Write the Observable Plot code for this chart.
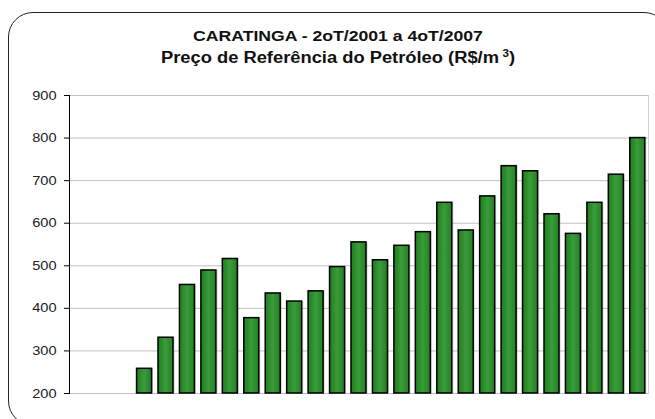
<!DOCTYPE html>
<html>
<head>
<meta charset="utf-8">
<script src="https://cdn.jsdelivr.net/npm/d3@7"></script>
<script src="https://cdn.jsdelivr.net/npm/@observablehq/plot@0.6"></script>
<style>
  html, body { margin: 0; padding: 0; background: #fff; }
  #wrap { position: relative; width: 655px; height: 419px; overflow: hidden; font-family: "Liberation Sans", Arial, sans-serif; }
  #frame { position: absolute; left: 8px; top: 12px; width: 661px; height: 414px; border: 1.5px solid #222; border-radius: 25px; box-sizing: border-box; }
  #title { position: absolute; left: 18px; top: 0; width: 640px; height: 80px; text-align: center; font-weight: bold; color: #111; transform: scaleX(1.16); transform-origin: 320px 0; }
  #title .l1 { position: absolute; left: 0; width: 100%; top: 27px; font-size: 15.2px; }
  #title .l2 { position: absolute; left: 0; width: 100%; top: 47.5px; font-size: 15.8px; }
  #title sup { font-size: 10px; vertical-align: 6px; margin-left: 3px; }
  #chart { position: absolute; left: 0; top: 80px; }
</style>
</head>
<body>
<div id="wrap">
  <div id="frame"></div>
  <div id="title">
    <div class="l1">CARATINGA - 2oT/2001 a 4oT/2007</div>
    <div class="l2">Preço de Referência do Petróleo (R$/m<sup>3</sup>)</div>
  </div>
  <div id="chart"></div>
</div>
<script>
const quarters = [
  "2T/2001","3T/2001","4T/2001",
  "1T/2002","2T/2002","3T/2002","4T/2002",
  "1T/2003","2T/2003","3T/2003","4T/2003",
  "1T/2004","2T/2004","3T/2004","4T/2004",
  "1T/2005","2T/2005","3T/2005","4T/2005",
  "1T/2006","2T/2006","3T/2006","4T/2006",
  "1T/2007","2T/2007","3T/2007","4T/2007"
];
const prices = [
  null, null, null,
  258, 331, 455, 489,
  516, 377, 435, 416,
  440, 497, 555, 513,
  547, 579, 648, 583,
  663, 734, 722, 621,
  575, 648, 714, 800
];
const yTicks = [200, 300, 400, 500, 600, 700, 800, 900];

const data = quarters.map((q, i) => ({q, v: prices[i]})).filter(d => d.v != null);

const chart = Plot.plot({
  width: 655,
  height: 339,
  marginTop: 15,
  marginBottom: 26,
  marginLeft: 69,
  marginRight: 7,
  style: {fontFamily: "'Liberation Sans', Arial, sans-serif", fontSize: "12.6px", color: "#222", background: "transparent"},
  x: {domain: quarters, paddingInner: 0.3, paddingOuter: 0.15, round: false, axis: null},
  y: {domain: [200, 900], ticks: yTicks, label: null},
  marks: [
    Plot.gridY(yTicks, {stroke: "#c0c0c0", strokeOpacity: 1, strokeWidth: 1}),
    Plot.frame({anchor: "right", stroke: "#cfcfcf"}),
    Plot.axisY({ticks: yTicks, tickSize: 5, tickPadding: 8, label: null, stroke: "#000", fill: "#222"}),
    Plot.frame({anchor: "left", stroke: "#000"}),
    Plot.rectY(data, {x: "q", y1: 200, y2: "v", fill: "#000", fillOpacity: 0.18, dx: 1.5, dy: 0, stroke: "none"}),
    Plot.rectY(data, {x: "q", y1: 200, y2: "v", fill: "url(#barGrad)", stroke: "#000", strokeWidth: 1.5})
  ]
});

// gradient definition for bars
const ns = "http://www.w3.org/2000/svg";
const defs = document.createElementNS(ns, "defs");
defs.innerHTML = '<linearGradient id="barGrad" x1="0" x2="1" y1="0" y2="0">' +
  '<stop offset="0" stop-color="#1f7d1f"/>' +
  '<stop offset="0.5" stop-color="#3a9c3a"/>' +
  '<stop offset="1" stop-color="#237f23"/></linearGradient>';
chart.insertBefore(defs, chart.firstChild);

// the reference's text is horizontally stretched: widen tick labels around their anchor
chart.querySelectorAll('g[aria-label="y-axis tick label"] text').forEach(t => {
  const tr = t.getAttribute("transform") || "";
  t.setAttribute("transform", tr + " scale(1.16,1)");
});

document.getElementById("chart").appendChild(chart);
</script>
</body>
</html>
